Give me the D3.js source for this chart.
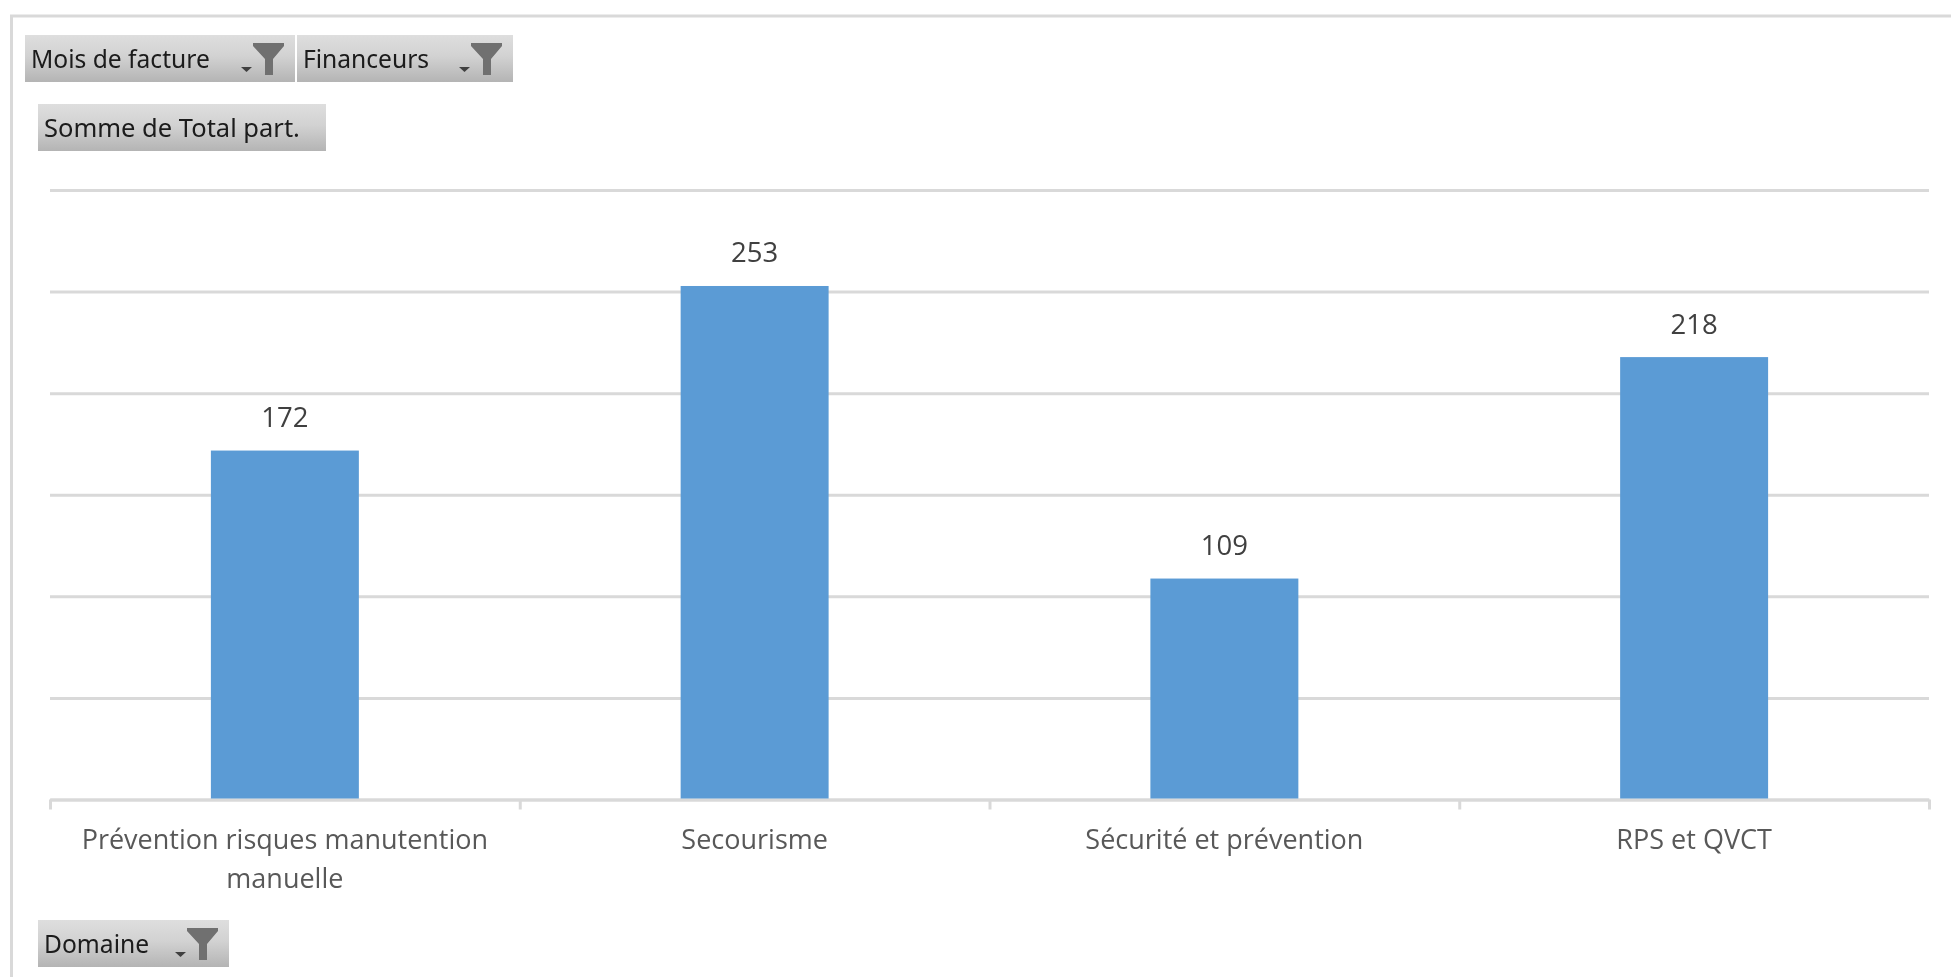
<!DOCTYPE html>
<html><head><meta charset="utf-8">
<script src="https://cdn.jsdelivr.net/npm/d3@7"></script>
<style>html,body{margin:0;padding:0;background:#fff;overflow:hidden}svg{display:block}</style>
</head><body><svg id="c" width="1951" height="977"></svg>
<script>
const categories = [["Prévention risques manutention","manuelle"],["Secourisme"],["Sécurité et prévention"],["RPS et QVCT"]];
const values = [172,253,109,218];
const yTicks = [0,50,100,150,200,250,300];
const filterButtons = [
 {label:"Mois de facture",x:25,y:35,w:270,funnel:true},
 {label:"Financeurs",x:297,y:35,w:216,funnel:true},
 {label:"Somme de Total part.",x:38,y:104,w:288,funnel:false},
 {label:"Domaine",x:38,y:920,w:191,funnel:true}];

const svg = d3.select("#c");
const FONT = "'Open Sans','Noto Sans',sans-serif";
const defs = svg.append("defs");
const grad = defs.append("linearGradient").attr("id","btn").attr("x1",0).attr("x2",0).attr("y1",0).attr("y2",1);
grad.append("stop").attr("offset","0").attr("stop-color","#dedede");
grad.append("stop").attr("offset","0.45").attr("stop-color","#d2d2d2");
grad.append("stop").attr("offset","1").attr("stop-color","#b4b4b4");
defs.append("filter").attr("id","soft").append("feGaussianBlur").attr("stdDeviation",0.45);

// outer frame
svg.append("path").attr("d","M11.5,977V16H1951").attr("fill","none").attr("stroke","#d9d9d9").attr("stroke-width",3);

const x = d3.scaleBand().domain(categories.map((d,i)=>i)).range([50,1929]).paddingInner(0.685).paddingOuter(0.3425);
const y = d3.scaleLinear().domain([0,300]).range([799.5,190]);
const xEdge = d3.scaleLinear().domain([0,categories.length]).range([50,1929]);

// grid
svg.append("g").call(d3.axisLeft(y).tickValues(yTicks).tickSize(-1879).tickFormat(""))
 .attr("transform","translate(50,0)")
 .call(g=>g.select(".domain").remove())
 .call(g=>g.selectAll("line").attr("stroke","#d9d9d9").attr("stroke-width",3));

// category axis ticks at band edges
svg.append("g").attr("transform","translate(0,799.5)")
 .call(d3.axisBottom(xEdge).tickValues(d3.range(categories.length+1)).tickSize(10).tickSizeOuter(0).tickFormat(""))
 .call(g=>g.select(".domain").attr("stroke","#d9d9d9").attr("stroke-width",3))
 .call(g=>g.selectAll("line").attr("stroke","#d9d9d9").attr("stroke-width",3));

// bars
svg.append("g").selectAll("rect").data(values).join("rect")
 .attr("x",(d,i)=>x(i)).attr("width",x.bandwidth())
 .attr("y",d=>y(d)+0.5).attr("height",d=>y(0)-y(d)-1.5).attr("fill","#5b9bd5");

// value labels
svg.append("g").attr("filter","url(#soft)").selectAll("text").data(values).join("text")
 .attr("x",(d,i)=>x(i)+x.bandwidth()/2).attr("y",d=>y(d)-23)
 .attr("text-anchor","middle").attr("font-family",FONT).attr("font-size",27.5).attr("fill","#404040").text(d=>d);

// category labels
const cat = svg.append("g").attr("filter","url(#soft)").selectAll("text").data(categories).join("text")
 .attr("text-anchor","middle").attr("font-family",FONT).attr("font-size",27).attr("fill","#595959");
cat.selectAll("tspan").data((d,i)=>d.map(t=>({t,i}))).join("tspan")
 .attr("x",d=>x(d.i)+x.bandwidth()/2)
 .attr("y",(d,j)=>849+j*38.5).text(d=>d.t);

// filter buttons
const btn = svg.append("g").selectAll("g").data(filterButtons).join("g")
 .attr("transform",d=>`translate(${d.x},${d.y})`);
btn.append("rect").attr("width",d=>d.w).attr("height",47).attr("fill","url(#btn)");
btn.append("text").attr("x",6).attr("y",32.5).attr("font-family","'Noto Sans','Liberation Sans',sans-serif")
 .attr("font-size",d=>d.funnel?24.6:25.5).attr("fill","#1a1a1a").attr("filter","url(#soft)").text(d=>d.label);
const fb = btn.filter(d=>d.funnel).append("g").attr("transform",d=>`translate(${d.w-42},8)`).attr("filter","url(#soft)");
fb.append("path").attr("d","M0,0H31V3L20,16V32H12V16L0,3Z").attr("fill","#6f6f6f");
fb.append("path").attr("d","M-12,24H-1L-6.5,29Z").attr("fill","#404040");
</script></body></html>
